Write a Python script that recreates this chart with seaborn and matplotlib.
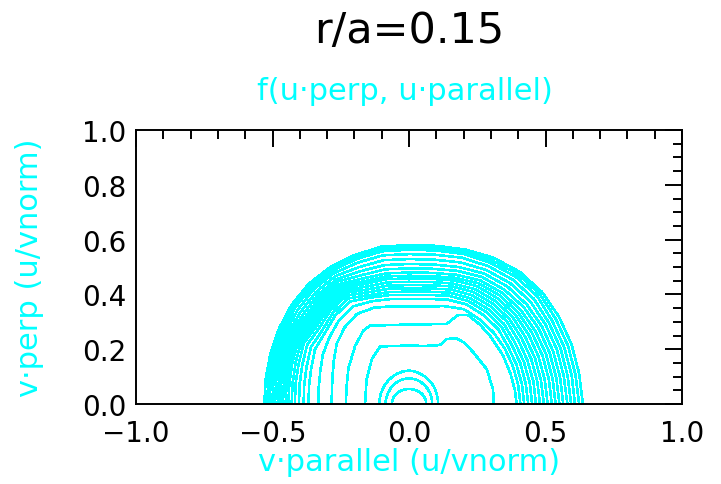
import numpy as np
import pandas as pd
import matplotlib
matplotlib.use("Agg")
import matplotlib.pyplot as plt
import seaborn as sns
from matplotlib.ticker import MultipleLocator, FuncFormatter

# Contour radii (u/vnorm) sampled along rays from the origin, one list per ray angle.
# Each list: 3 inner rings followed by 17 outer contours (inner -> outer).
angles_deg = [0, 10, 20, 30, 40, 50, 60, 70, 80, 90, 100, 110, 120, 130, 140, 150, 160, 170, 180]
r_000 = [.063, .085, .107, .408, .422, .437, .451, .465, .480, .494, .508, .523, .537, .551, .565, .580, .594, .608, .623, .637]
r_010 = [.063, .085, .107, .406, .420, .434, .449, .463, .477, .491, .505, .520, .534, .548, .562, .576, .590, .605, .619, .633]
r_020 = [.062, .086, .108, .405, .419, .434, .448, .462, .477, .491, .505, .520, .534, .548, .562, .577, .591, .605, .620, .634]
r_030 = [.061, .087, .110, .405, .419, .434, .448, .463, .477, .491, .506, .520, .534, .549, .563, .578, .592, .606, .621, .635]
r_040 = [.060, .088, .112, .405, .426, .441, .454, .468, .481, .495, .508, .521, .534, .549, .564, .581, .597, .613, .625, .636]
r_050 = [.058, .089, .114, .403, .424, .439, .452, .465, .478, .491, .504, .517, .530, .544, .560, .576, .592, .607, .619, .630]
r_060 = [.057, .091, .116, .400, .420, .434, .446, .459, .472, .484, .497, .509, .521, .535, .550, .565, .581, .595, .606, .617]
r_070 = [.056, .092, .118, .380, .406, .421, .433, .445, .457, .468, .480, .490, .502, .517, .532, .550, .568, .583, .592, .600]
r_080 = [.055, .093, .121, .362, .389, .404, .416, .428, .440, .452, .464, .474, .486, .501, .517, .535, .553, .569, .578, .586]
r_090 = [.055, .094, .122, .356, .383, .398, .410, .422, .434, .446, .458, .468, .480, .495, .511, .529, .547, .563, .572, .580]
r_100 = [.055, .093, .121, .362, .389, .404, .415, .427, .439, .451, .463, .473, .484, .499, .515, .533, .551, .566, .575, .583]
r_110 = [.056, .092, .119, .374, .399, .413, .423, .434, .445, .456, .467, .477, .488, .501, .516, .532, .549, .563, .572, .579]
r_120 = [.057, .091, .117, .380, .411, .432, .445, .457, .468, .478, .488, .497, .506, .517, .527, .539, .551, .562, .570, .577]
r_130 = [.058, .090, .115, .366, .399, .421, .434, .447, .458, .469, .479, .488, .498, .509, .520, .532, .545, .556, .564, .572]
r_140 = [.059, .088, .113, .345, .380, .403, .416, .430, .442, .453, .464, .473, .484, .495, .507, .520, .533, .546, .554, .562]
r_150 = [.061, .087, .111, .318, .364, .398, .415, .431, .445, .456, .467, .477, .486, .495, .504, .513, .523, .532, .541, .550]
r_160 = [.062, .086, .110, .298, .346, .381, .399, .416, .430, .442, .454, .464, .473, .483, .492, .502, .512, .521, .530, .540]
r_170 = [.062, .086, .109, .287, .336, .372, .390, .407, .422, .433, .445, .455, .465, .475, .484, .494, .504, .514, .523, .533]
r_180 = [.063, .086, .108, .283, .332, .368, .386, .403, .418, .430, .442, .452, .462, .472, .481, .491, .501, .511, .520, .530]

# Two intermediate contours with flat tops and a shoulder on the right
c4_par = [-0.161, -0.158, -0.155, -0.136, -0.106, -0.05, 0.0, 0.06, 0.113, 0.138, 0.174, 0.205, 0.235, 0.284, 0.308, 0.310]
c4_perp = [0.0, 0.05, 0.091, 0.164, 0.210, 0.212, 0.213, 0.212, 0.215, 0.237, 0.240, 0.222, 0.189, 0.128, 0.055, 0.0]
c5_par = [-0.231, -0.229, -0.222, -0.197, -0.167, -0.143, 0.0, 0.138, 0.160, 0.180, 0.215, 0.260, 0.300, 0.345, 0.372, 0.388, 0.394]
c5_perp = [0.0, 0.06, 0.13, 0.213, 0.268, 0.286, 0.290, 0.292, 0.310, 0.325, 0.325, 0.290, 0.245, 0.176, 0.110, 0.050, 0.0]

x_ticks = [-1.0, -0.5, 0.0, 0.5, 1.0]
y_ticks = [0.0, 0.2, 0.4, 0.6, 0.8, 1.0]

CYAN = "#00ffff"

# ---- assemble the contour table ----
rays = [r_000, r_010, r_020, r_030, r_040, r_050, r_060, r_070, r_080, r_090,
        r_100, r_110, r_120, r_130, r_140, r_150, r_160, r_170, r_180]
rows = []
n_polar = len(r_000)
for k in range(n_polar):
    for j, ang in enumerate(angles_deg):
        th = np.deg2rad(ang)
        r = rays[j][k]
        rows.append((k, j, r * np.cos(th), r * np.sin(th)))
for lvl, (px, py) in enumerate([(c4_par, c4_perp), (c5_par, c5_perp)], start=n_polar):
    for j, (a, b) in enumerate(zip(px, py)):
        rows.append((lvl, j, a, b))
df = pd.DataFrame(rows, columns=["level", "order", "v_par", "v_perp"])

sns.set_style("white")
plt.rcParams["font.family"] = ["DejaVu Sans"]

fig = plt.figure(figsize=(7.21, 4.85), dpi=100)
ax = fig.add_axes([136 / 721, 80 / 485, 546 / 721, 274 / 485])

sns.lineplot(data=df, x="v_par", y="v_perp", units="level", estimator=None,
             sort=False, color=CYAN, linewidth=1.15, antialiased=False,
             legend=False, ax=ax)

ax.set_xlim(-1, 1)
ax.set_ylim(0, 1)
ax.set_xticks(x_ticks)
ax.set_yticks(y_ticks)
ax.xaxis.set_minor_locator(MultipleLocator(0.1))
ax.yaxis.set_minor_locator(MultipleLocator(0.05))
fmt = FuncFormatter(lambda val, pos: f"{val:.1f}".replace("-", "\u2212"))
ax.xaxis.set_major_formatter(fmt)
ax.yaxis.set_major_formatter(fmt)

ax.tick_params(which="both", direction="in", top=True, right=True,
               color="black", width=1.4, labelcolor="black", labelsize=20)
ax.tick_params(which="major", length=12)
ax.tick_params(which="minor", length=6.5)
ax.tick_params(axis="x", which="major", pad=11)
ax.tick_params(axis="y", which="major", pad=7)
for s in ax.spines.values():
    s.set_color("black")
    s.set_linewidth(1.4)

ax.set_xlabel("v·parallel (u/vnorm)", color=CYAN, fontsize=22, va="center")
ax.set_ylabel("v·perp (u/vnorm)", color=CYAN, fontsize=22, va="center")
ax.xaxis.set_label_coords(0.5, (405 - 463) / 274)
ax.yaxis.set_label_coords((30 - 136) / 546, 0.5)

fig.text(409 / 721, 1 - 31 / 485, "r/a=0.15", ha="center", va="center",
         fontsize=31, color="black")
fig.text(405 / 721, 1 - 92 / 485, "f(u·perp, u·parallel)", ha="center",
         va="center", fontsize=22, color=CYAN)

fig.savefig("out.png", dpi=100, facecolor="white")
